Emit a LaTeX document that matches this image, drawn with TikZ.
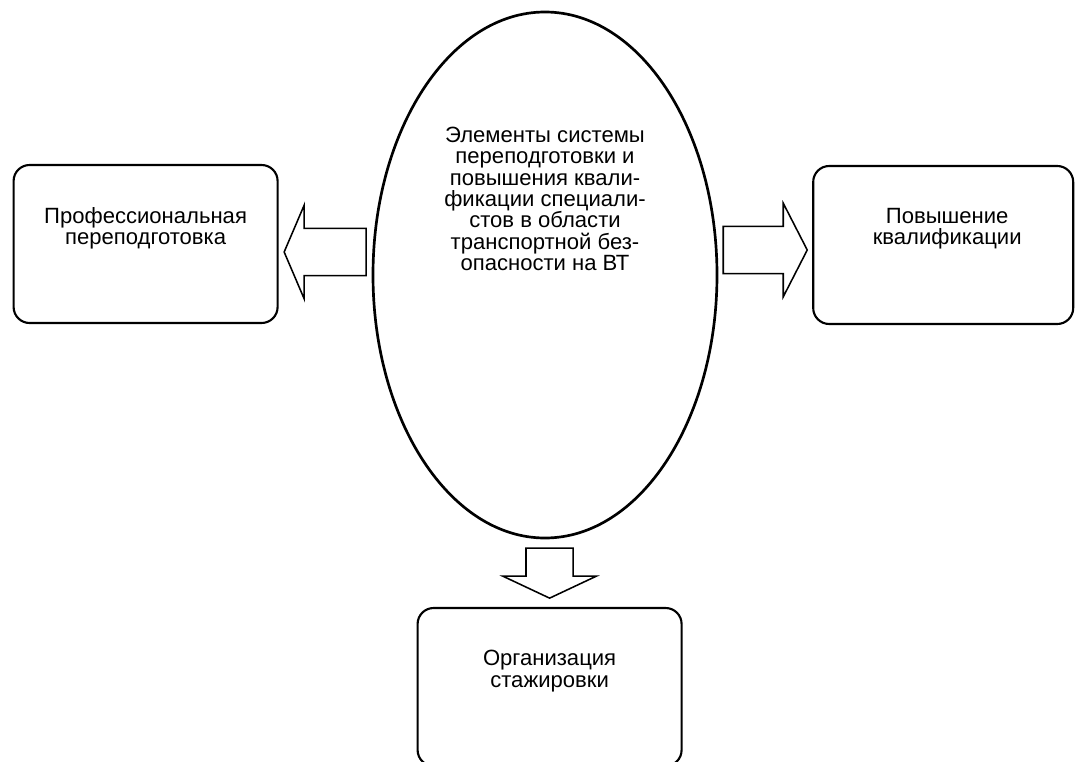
\documentclass[tikz,border=0pt]{standalone}
\usepackage{fontspec}
\setmainfont{Liberation Sans}
\usepackage{tikz}
\usetikzlibrary{shapes.geometric, calc}

\tikzset{
  pics/fatarrow/.style n args={2}{code={
    \draw[line width=1.1pt, fill=white] (-#1/2,-0.59) -- (#1/2-#2,-0.59) -- (#1/2-#2,-1.17)
      -- (#1/2,0) -- (#1/2-#2,1.17) -- (#1/2-#2,0.59) -- (-#1/2,0.59) -- cycle;
  }}
}

\begin{document}
\begin{tikzpicture}[
      every node/.append style={font=\fontsize{15.7}{15.2}\selectfont, align=center},
      block/.style={draw, line width=1.5pt, rounded corners=0.4cm, minimum width=6.6cm, minimum height=3.95cm, inner sep=0pt},
      oval/.style={draw, ellipse, line width=1.9pt, minimum width=8.6cm, minimum height=13.15cm, inner sep=0pt}]
    \useasboundingbox (0,0) rectangle (26.9,-19.05);

    \node (ell) [oval] at (13.625,-6.875) {};
    \node (pro) [block] at (3.64,-6.1) {};
    \node (pov) [block, minimum width=6.5cm] at (23.58,-6.125) {};
    \node (org) [block] at (13.74,-17.175) {};

    % texts
    \node (ell-t) at ([yshift=1.9cm]ell.center) {Элементы системы\\переподготовки и\\повышения квали-\\фикации специали-\\стов в области\\транспортной без-\\опасности на ВТ};
    \node (pro-t) at ([yshift=0.4cm]pro.center) {Профессиональная\\переподготовка};
    \node (pov-t) at ([xshift=0.1cm, yshift=0.4cm]pov.center) {Повышение\\квалификации};
    \node (org-t) at ([yshift=0.4cm]org.center) {Организация\\стажировки};

    % block arrows
    \pic[rotate=180] at ($(pro.east)!0.5!(pro.east -| ell.west)+(0,-0.2)$) {fatarrow={2.05}{0.5}};
    \pic at ($(pov.west)!0.5!(pov.west -| ell.east)+(0,-0.125)$) {fatarrow={2.1}{0.6}};
    \pic[rotate=-90] at ($(org.north)!0.5!(org.north |- ell.south)$) {fatarrow={1.25}{0.55}};
\end{tikzpicture}
\end{document}
